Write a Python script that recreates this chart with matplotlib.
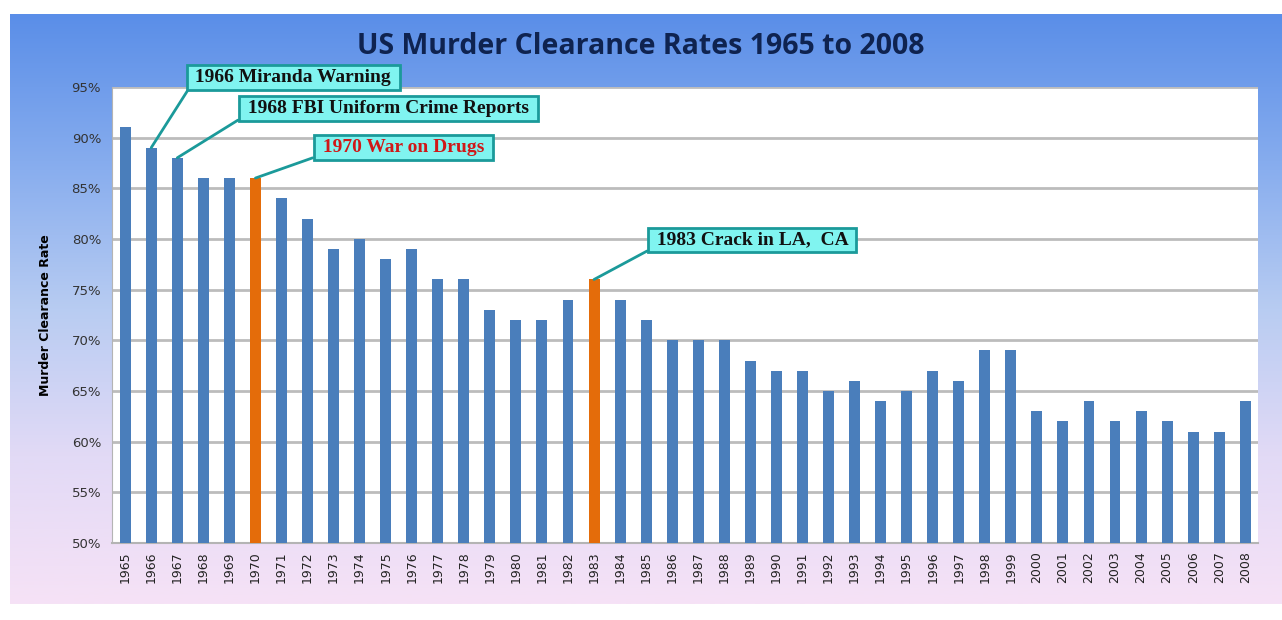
import numpy as np
import matplotlib
matplotlib.use("Agg")
import matplotlib.pyplot as plt
from matplotlib.colors import LinearSegmentedColormap
from matplotlib.ticker import FuncFormatter

# Data.
years = list(range(1965, 2009))
rates = [91, 89, 88, 86, 86, 86, 84, 82, 79, 80,
         78, 79, 76, 76, 73, 72, 72, 74, 76, 74,
         72, 70, 70, 70, 68, 67, 67, 65, 66, 64,
         65, 67, 66, 69, 69, 63, 62, 64, 62, 63,
         62, 61, 61, 64]
highlight_years = [1970, 1983]

notes = ["1966 Miranda Warning", "1968 FBI Uniform Crime Reports",
         "1970 War on Drugs", "1983 Crack in LA,  CA"]
note_years = [1966, 1967, 1970, 1983]
note_pos = [(6.45, 95.9), (10.1, 92.85), (10.67, 89.0), (24.07, 79.9)]
note_colors = ["#111111", "#111111", "#d01818", "#111111"]

BLUE = "#4a7ebb"
ORANGE = "#e46c0a"
TEAL = "#1b9a9a"

fig = plt.figure(figsize=(12.82, 6.2), dpi=100)

# Gradient background.
bg = fig.add_axes([0.008, 0.025, 0.992, 0.952], zorder=-10)
cmap = LinearSegmentedColormap.from_list(
    "bg", ["#5a8ee8", "#86acee", "#b8ccf2", "#e2daf6", "#f6e2f6"])
bg.imshow(np.linspace(0, 1, 256).reshape(-1, 1), aspect="auto", cmap=cmap,
          extent=[0, 1, 0, 1])
bg.set_axis_off()

ax = fig.add_axes([0.0875, 0.124, 0.894, 0.736])
x = np.arange(len(years))
colors = [ORANGE if y in highlight_years else BLUE for y in years]
ax.bar(x, rates, width=0.42, color=colors, zorder=3)

ax.set_xlim(-0.5, len(years) - 0.5)
ax.set_ylim(50, 95)
ax.set_yticks(range(50, 96, 5))
ax.yaxis.set_major_formatter(FuncFormatter(lambda v, p: f"{v:.0f}%"))
ax.set_xticks(x)
ax.set_xticklabels([str(y) for y in years], rotation=90, fontsize=9,
                   color="#222222")
ax.tick_params(axis="y", labelsize=9.5, colors="#333333", length=0, pad=8)
ax.tick_params(axis="x", length=0, pad=6)
ax.grid(axis="y", color="#bcbcbc", lw=2, zorder=0)
for s in ["top", "right"]:
    ax.spines[s].set_visible(False)
ax.spines["left"].set_color("#b4b4b4")
ax.spines["bottom"].set_color("#b4b4b4")
ax.spines["bottom"].set_linewidth(1.5)

ax.set_ylabel("Murder Clearance Rate", fontsize=9, fontweight="bold",
              labelpad=14)

fig.text(0.5, 0.925, "US Murder Clearance Rates 1965 to 2008",
         ha="center", va="center", fontsize=20.5, fontweight="bold",
         color="#0f2350", family="Open Sans")

for txt, yr, pos, c in zip(notes, note_years, note_pos, note_colors):
    i = years.index(yr)
    ax.annotate(" " + txt + " ", xy=(i, rates[i]), xytext=pos,
                ha="center", va="center",
                fontsize=14, fontweight="bold", color=c,
                family="Liberation Serif", annotation_clip=False, zorder=5,
                bbox=dict(boxstyle="square,pad=0.2", fc="#80f4f0",
                          ec=TEAL, lw=2),
                arrowprops=dict(arrowstyle="-", color=TEAL, lw=2,
                                relpos=(0, 0), shrinkA=0, shrinkB=0))

fig.savefig("out.png", dpi=100)
